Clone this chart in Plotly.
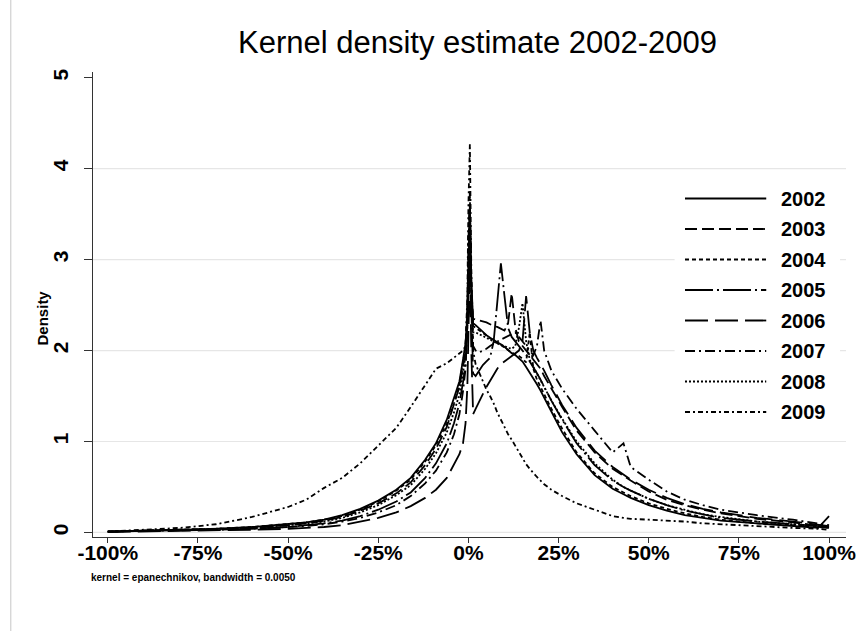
import plotly.graph_objects as go

# ---------------- data ----------------
X = [-1.00, -0.90, -0.80, -0.70, -0.60, -0.50, -0.45, -0.40, -0.35, -0.30,
     -0.25, -0.20, -0.16, -0.12, -0.09, -0.06, -0.04, -0.025, -0.015, -0.008,
     -0.003, 0.000, 0.004, 0.008, 0.013, 0.02, 0.03, 0.04, 0.05, 0.06,
     0.07, 0.08, 0.09, 0.10, 0.11, 0.12, 0.13, 0.14, 0.15, 0.16,
     0.17, 0.18, 0.19, 0.20, 0.21, 0.23, 0.26, 0.30, 0.35, 0.40,
     0.43, 0.45, 0.50, 0.55, 0.60, 0.65, 0.70, 0.80, 0.90, 0.97, 1.00]

Y2002 = [0.01, 0.02, 0.03, 0.04, 0.06, 0.09, 0.11, 0.14, 0.19, 0.26,
         0.35, 0.47, 0.60, 0.80, 0.98, 1.24, 1.47, 1.66, 1.90, 2.08,
         2.40, 3.10, 3.55, 2.80, 2.30, 2.28, 2.24, 2.20, 2.17, 2.14,
         2.12, 2.09, 2.07, 2.04, 2.00, 1.97, 1.95, 1.92, 1.88, 1.82,
         1.76, 1.70, 1.63, 1.56, 1.48, 1.33, 1.10, 0.86, 0.63, 0.48,
         0.42, 0.38, 0.30, 0.24, 0.19, 0.16, 0.13, 0.10, 0.07, 0.05, 0.18]

Y2003 = [0.01, 0.02, 0.03, 0.04, 0.05, 0.08, 0.10, 0.13, 0.17, 0.24,
         0.32, 0.43, 0.55, 0.74, 0.92, 1.16, 1.40, 1.60, 1.82, 2.00,
         2.30, 2.90, 3.45, 2.70, 2.35, 2.34, 2.33, 2.32, 2.31, 2.29,
         2.27, 2.26, 2.24, 2.22, 2.30, 2.63, 2.25, 2.10, 2.05, 2.00,
         1.95, 1.90, 1.85, 1.80, 1.72, 1.58, 1.38, 1.12, 0.88, 0.70,
         0.62, 0.57, 0.45, 0.36, 0.30, 0.25, 0.21, 0.15, 0.11, 0.08, 0.06]

Y2004 = [0.01, 0.02, 0.03, 0.04, 0.06, 0.09, 0.11, 0.14, 0.18, 0.25,
         0.34, 0.46, 0.58, 0.78, 0.96, 1.20, 1.42, 1.62, 1.86, 2.05,
         2.45, 3.20, 3.60, 2.70, 2.27, 2.25, 2.22, 2.19, 2.16, 2.13,
         2.10, 2.08, 2.06, 2.03, 2.00, 1.98, 1.96, 1.94, 1.91, 1.87,
         2.20, 1.80, 1.68, 1.60, 1.52, 1.36, 1.14, 0.88, 0.65, 0.50,
         0.44, 0.40, 0.32, 0.26, 0.21, 0.17, 0.14, 0.10, 0.08, 0.06, 0.05]

Y2005 = [0.01, 0.015, 0.02, 0.03, 0.04, 0.06, 0.08, 0.10, 0.13, 0.18,
         0.25, 0.34, 0.44, 0.60, 0.76, 0.98, 1.20, 1.42, 1.65, 1.85,
         2.20, 2.90, 3.50, 2.50, 1.75, 1.72, 1.78, 1.84, 1.88, 1.92,
         2.10, 2.55, 2.96, 2.60, 2.25, 2.15, 2.10, 2.05, 2.00, 1.95,
         1.88, 1.82, 1.75, 1.68, 1.60, 1.45, 1.24, 0.98, 0.74, 0.57,
         0.50, 0.46, 0.37, 0.30, 0.24, 0.20, 0.16, 0.12, 0.09, 0.07, 0.05]

Y2006 = [0.005, 0.01, 0.015, 0.02, 0.03, 0.04, 0.05, 0.06, 0.08, 0.12,
         0.16, 0.22, 0.29, 0.38, 0.47, 0.60, 0.74, 0.86, 0.98, 1.20,
         1.60, 2.40, 2.95, 2.00, 1.30, 1.36, 1.45, 1.52, 1.60, 1.67,
         1.74, 1.80, 1.85, 1.88, 1.92, 1.95, 1.97, 2.00, 2.10, 2.60,
         2.20, 2.00, 1.92, 1.85, 1.78, 1.62, 1.40, 1.15, 0.90, 0.72,
         0.63, 0.58, 0.47, 0.38, 0.31, 0.26, 0.22, 0.16, 0.12, 0.09, 0.07]

Y2007 = [0.01, 0.015, 0.02, 0.03, 0.04, 0.06, 0.07, 0.09, 0.12, 0.16,
         0.22, 0.30, 0.40, 0.54, 0.68, 0.88, 1.08, 1.30, 1.55, 1.80,
         2.30, 3.20, 3.75, 2.60, 2.05, 2.00, 1.98, 2.00, 2.02, 2.05,
         2.08, 2.10, 2.12, 2.14, 2.16, 2.18, 2.20, 2.15, 2.10, 2.05,
         2.00, 1.95, 2.05, 2.33, 2.00, 1.78, 1.58, 1.36, 1.12, 0.88,
         0.98, 0.72, 0.58, 0.45, 0.36, 0.30, 0.25, 0.19, 0.14, 0.10, 0.08]

Y2008 = [0.01, 0.02, 0.03, 0.04, 0.05, 0.08, 0.10, 0.12, 0.16, 0.22,
         0.30, 0.41, 0.52, 0.70, 0.87, 1.10, 1.32, 1.52, 1.75, 1.95,
         2.25, 2.90, 3.40, 2.60, 2.20, 2.20, 2.18, 2.16, 2.14, 2.12,
         2.10, 2.08, 2.06, 2.05, 2.03, 2.02, 2.05, 2.25, 2.52, 2.10,
         1.90, 1.82, 1.75, 1.68, 1.60, 1.45, 1.25, 1.00, 0.76, 0.58,
         0.50, 0.46, 0.37, 0.30, 0.25, 0.20, 0.17, 0.12, 0.09, 0.07, 0.05]

Y2009 = [0.01, 0.03, 0.05, 0.09, 0.17, 0.28, 0.36, 0.49, 0.60, 0.76,
         0.95, 1.15, 1.38, 1.62, 1.80, 1.86, 1.92, 1.97, 2.00, 2.05,
         2.60, 3.60, 4.27, 2.90, 2.00, 1.85, 1.75, 1.65, 1.57, 1.50,
         1.42, 1.32, 1.24, 1.15, 1.08, 1.02, 0.95, 0.88, 0.82, 0.75,
         0.70, 0.65, 0.61, 0.57, 0.53, 0.47, 0.40, 0.32, 0.25, 0.18,
         0.16, 0.15, 0.14, 0.13, 0.12, 0.10, 0.09, 0.065, 0.05, 0.04, 0.03]

YEARS = ["2002", "2003", "2004", "2005", "2006", "2007", "2008", "2009"]
SERIES = [Y2002, Y2003, Y2004, Y2005, Y2006, Y2007, Y2008, Y2009]

X_TICKS = [-1.0, -0.75, -0.5, -0.25, 0.0, 0.25, 0.5, 0.75, 1.0]
X_TICK_LABELS = ["-100%", "-75%", "-50%", "-25%", "0%", "25%", "50%", "75%", "100%"]
Y_TICKS = [0, 1, 2, 3, 4, 5]
GRID_LEVELS = [0, 1, 2, 3, 4]

TITLE = "Kernel density estimate 2002-2009"
Y_TITLE = "Density"
NOTE = "kernel = epanechnikov, bandwidth = 0.0050"

# ---------------- styles ----------------
DASHES = ["solid", "12px,5px", "4px,3px", "28px,4px,2px,4px",
          "23px,7px", "10px,4px,2px,4px", "2px,2px", "5px,3px,2px,3px"]
FONT = "Liberation Sans, Arial, sans-serif"
W, H = 868, 631
L, R, T, B = 93, 15, 72, 94
PW, PH = W - L - R, H - T - B


def px_x(p):
    return (p - L) / PW


def px_y(p):
    return (H - B - p) / PH


fig = go.Figure()
for year, ys, dash in zip(YEARS, SERIES, DASHES):
    fig.add_trace(go.Scatter(x=X, y=ys, mode="lines", name=year,
                             line=dict(color="black", width=1.8, dash=dash),
                             showlegend=False))

shapes = []
for g in GRID_LEVELS:
    shapes.append(dict(type="line", xref="paper", yref="y", x0=0, x1=1, y0=g, y1=g,
                       line=dict(color="#e6e6e6", width=1.2), layer="below"))
# legend background
shapes.append(dict(type="rect", xref="paper", yref="paper",
                   x0=px_x(680), x1=px_x(847), y0=px_y(427), y1=px_y(184),
                   fillcolor="white", line=dict(width=0), layer="below"))
# outer graph border (left edge)
shapes.append(dict(type="line", xref="paper", yref="paper",
                   x0=px_x(10), x1=px_x(10), y0=px_y(H), y1=px_y(0),
                   line=dict(color="#cfcfcf", width=1.2)))

annotations = []
row_y0, row_step = 198.5, 30.5
for i, (year, dash) in enumerate(zip(YEARS, DASHES)):
    yy = px_y(row_y0 + i * row_step)
    shapes.append(dict(type="line", xref="paper", yref="paper",
                       x0=px_x(690.5), x1=px_x(772.5), y0=yy, y1=yy,
                       line=dict(color="black", width=1.8, dash=dash)))
    annotations.append(dict(xref="paper", yref="paper", x=px_x(785), y=yy,
                            text="<b>%s</b>" % year, showarrow=False,
                            xanchor="left", yanchor="middle",
                            font=dict(family=FONT, size=20, color="black")))

annotations.append(dict(xref="paper", yref="paper", x=px_x(481), y=px_y(42),
                        text=TITLE, showarrow=False, xanchor="center", yanchor="middle",
                        font=dict(family=FONT, size=31, color="black")))
annotations.append(dict(xref="paper", yref="paper", x=px_x(42), y=px_y(318),
                        text="<b>%s</b>" % Y_TITLE, showarrow=False, textangle=-90,
                        xanchor="center", yanchor="middle",
                        font=dict(family=FONT, size=15, color="black")))
annotations.append(dict(xref="paper", yref="paper", x=px_x(89), y=px_y(577),
                        text="<b>%s</b>" % NOTE, showarrow=False,
                        xanchor="left", yanchor="middle",
                        font=dict(family=FONT, size=10, color="black")))

fig.update_layout(
    width=W, height=H,
    margin=dict(l=L, r=R, t=T, b=B, pad=0),
    paper_bgcolor="white", plot_bgcolor="white",
    showlegend=False,
    shapes=shapes, annotations=annotations,
    font=dict(family=FONT, color="black"),
    xaxis=dict(range=[-1.041, 1.047], tickvals=X_TICKS, ticktext=X_TICK_LABELS,
               ticks="outside", ticklen=5, tickwidth=1, tickcolor="#333",
               showline=True, linecolor="#333", linewidth=1,
               showgrid=False, zeroline=False, ticklabelstandoff=-8,
               tickfont=dict(family=FONT, size=21, color="black", weight="bold")),
    yaxis=dict(range=[-0.05, 5.063], tickvals=Y_TICKS,
               ticks="outside", ticklen=8, tickwidth=1, tickcolor="#333",
               showline=True, linecolor="#333", linewidth=1,
               showgrid=False, zeroline=False, tickangle=-90, ticklabelstandoff=8,
               tickfont=dict(family=FONT, size=21, color="black", weight="bold")),
)

fig.write_html("out.html")
